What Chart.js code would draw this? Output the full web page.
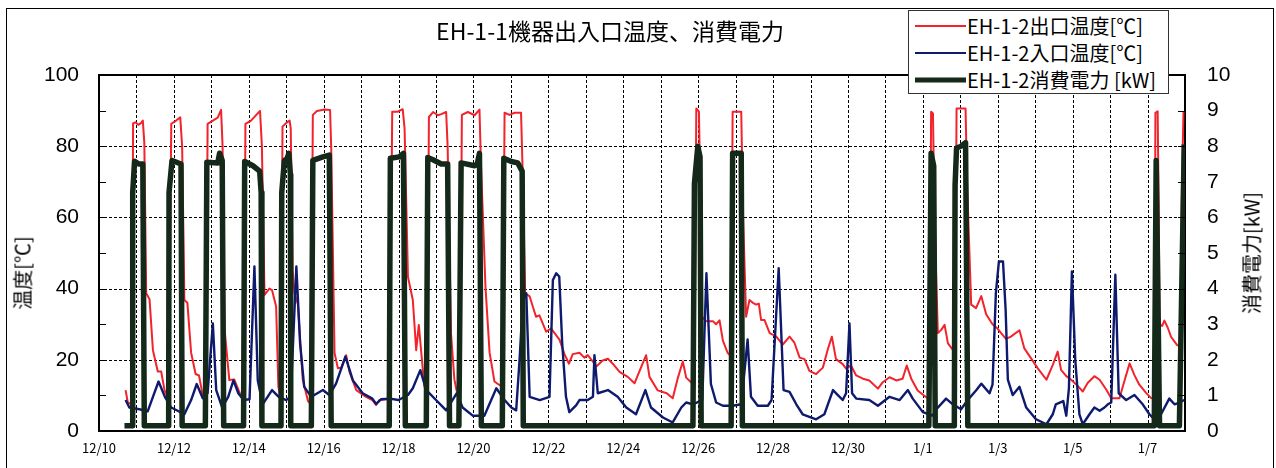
<!DOCTYPE html>
<html lang="ja">
<head>
<meta charset="utf-8">
<title>EH-1-1機器出入口温度、消費電力</title>
<script src="https://cdn.jsdelivr.net/npm/chart.js@4.4.1/dist/chart.umd.min.js"></script>
<style>
  html, body { margin: 0; padding: 0; background: #fff; }
  body { width: 1276px; height: 468px; position: relative; overflow: hidden; font-family: "Noto Sans CJK JP", sans-serif; }
  #frame { position: absolute; left: 6px; top: 8px; width: 1266px; height: 480px; border: 1px solid #000; }
  #chart { position: absolute; left: 0; top: 0; }
  .title { position: absolute; left: 0; width: 1220px; top: 14px; text-align: center; font-size: 23px; line-height: 32px; color: #000; }
  .ytitle { position: absolute; font-size: 20px; color: #000; white-space: nowrap; transform: translate(-50%, -50%) rotate(-90deg); }
  #legend { position: absolute; left: 908px; top: 10px; width: 259px; height: 82px; border: 1px solid #333; background: #fff; z-index: 2; }
  .row { position: absolute; left: 0; width: 100%; height: 26px; }
  .row .ln { position: absolute; left: 6px; width: 51px; top: 50%; transform: translateY(-50%); }
  .row .tx { position: absolute; left: 58px; top: 0; line-height: 26px; font-size: 20px; color: #000; white-space: nowrap; }
</style>
</head>
<body>
<div id="frame"></div>
<canvas id="chart" width="1276" height="468"></canvas>
<div class="title">EH-1-1機器出入口温度、消費電力</div>
<div class="ytitle" style="left:22px; top:273px;">温度[℃]</div>
<div class="ytitle" style="left:1251px; top:253px;">消費電力[kW]</div>
<div id="legend"></div>

<script>
// x = days since 12/10 0:00
const xTickLabels = ['12/10','12/12','12/14','12/16','12/18','12/20','12/22','12/24','12/26','12/28','12/30','1/1','1/3','1/5','1/7'];

const seriesNames = ['EH-1-2出口温度[℃]', 'EH-1-2入口温度[℃]', 'EH-1-2消費電力 [kW]'];

// outlet temperature [℃]
const outletTemp = [
  [0.71,11.5],[0.77,8],[0.88,7.5],[0.91,86.4],[0.97,86.7],[1.05,86],[1.12,86.5],[1.17,87.2],[1.21,81],[1.26,38.7],[1.35,37],[1.44,22.7],[1.57,16.7],[1.66,16.7],[1.75,11.5],[1.86,9],
  [1.93,86.3],[2.06,87.2],[2.17,88.1],[2.22,80],[2.28,36.8],[2.36,36],[2.46,22],[2.58,16],[2.67,15.6],[2.77,10],[2.86,9],
  [2.9,86.3],[3.04,87.2],[3.17,88],[3.26,90.2],[3.3,80],[3.35,29],[3.48,14.3],[3.61,14.5],[3.8,9.6],[3.87,9],
  [3.91,86.3],[4.06,87.2],[4.2,88.8],[4.3,89.9],[4.35,80],[4.42,38.2],[4.55,40],[4.62,39.6],[4.73,35],[4.79,12.4],[4.86,9],
  [4.9,85.5],[5.02,86.7],[5.09,87.2],[5.12,85],[5.17,45],[5.22,38.7],[5.31,35.6],[5.44,14.5],[5.58,8.4],[5.66,7.5],
  [5.71,88.8],[5.82,89.9],[6.02,90.3],[6.17,90.2],[6.2,80],[6.29,21.9],[6.38,17.6],[6.47,17.8],[6.6,21.3],[6.69,16.6],[6.87,11.5],[7.13,9.6],[7.3,8.7],[7.4,7.3],[7.49,8.7],[7.71,8.9],[7.76,8.9],
  [7.83,89.7],[7.98,89.7],[8.11,90.4],[8.16,85],[8.25,43.3],[8.38,36.8],[8.47,22.7],[8.54,29.8],[8.6,22.7],[8.69,12.4],[8.76,11.5],
  [8.81,88.2],[8.92,89.6],[9.05,88.7],[9.14,89],[9.27,89.6],[9.31,80],[9.4,27.4],[9.49,14.5],[9.55,11.3],[9.64,10.5],
  [9.69,88.8],[9.85,89.6],[10.03,88.7],[10.16,90.3],[10.2,75],[10.32,40.5],[10.43,22],[10.56,13.9],[10.68,13],[10.78,12.5],
  [10.83,89.4],[10.96,88.8],[11.1,89.4],[11.27,89.4],[11.32,70],[11.38,38.7],[11.5,37.8],[11.67,32.1],[11.76,32.5],[11.94,27.9],[12.07,28.8],[12.3,25.6],[12.43,21.6],[12.55,18.9],[12.65,21.6],[12.83,22],[12.96,20.6],[13.05,21.3],[13.19,19.5],[13.28,18.1],[13.45,19.8],[13.59,20.3],[13.72,18.9],[13.9,16.6],[14.12,15.2],[14.3,13.4],[14.48,18],[14.61,21.3],[14.7,15.2],[14.92,11.4],[15.16,10.6],[15.32,9.2],[15.46,15],[15.59,19.5],[15.68,15],[15.81,13.7],[15.9,13],
  [15.95,90.6],[16.02,89.7],[16.07,60],[16.1,32.1],[16.22,30.8],[16.4,30.8],[16.48,30],[16.57,31.1],[16.66,25.4],[16.79,21.9],[16.88,21],
  [16.92,89.7],[17.15,89.7],[17.2,60],[17.28,32.1],[17.37,36.8],[17.46,36],[17.55,35.5],[17.62,35.8],[17.68,31.2],[17.77,31.2],[17.91,27.5],[18.08,26.6],[18.26,24.3],[18.44,26.5],[18.57,24.8],[18.71,20.6],[18.84,20.2],[18.97,16.9],[19.15,16],[19.33,17.8],[19.46,22.9],[19.57,26.5],[19.68,20.2],[19.86,18.8],[19.95,17.5],[20.08,18.4],[20.22,15.6],[20.4,14.7],[20.57,14.2],[20.8,11.9],[20.93,13.7],[21.11,15.1],[21.29,14.2],[21.46,14.7],[21.57,18.4],[21.69,14.7],[21.86,11.4],[22.09,9.5],[22.18,9],
  [22.22,89.7],[22.27,89.2],[22.31,60],[22.4,27.5],[22.49,28.4],[22.58,29.8],[22.67,24.6],[22.8,22.8],[22.86,22],
  [22.9,90.6],[23.14,90.6],[23.18,70],[23.29,35.5],[23.42,34.5],[23.56,37.9],[23.69,32.8],[23.86,30],[24.0,28.7],[24.09,27.5],[24.22,25.9],[24.35,26.5],[24.58,28.3],[24.71,23.2],[24.89,20.4],[25.07,17.6],[25.3,14.4],[25.47,18.6],[25.6,22.3],[25.69,17.2],[25.83,15.4],[25.96,14.4],[26.14,12.6],[26.27,11.1],[26.4,13.5],[26.58,15.4],[26.72,14.4],[26.9,11.6],[27.03,9.2],[27.25,9.2],[27.38,14],[27.52,19],[27.65,15.7],[27.78,13],[27.96,10.7],[28.09,9.3],[28.18,9],
  [28.21,89.4],[28.27,89.8],[28.3,60],[28.32,30],[28.39,29.5],[28.45,31],[28.54,29],[28.63,26.4],[28.79,24.1],[28.88,24],[28.92,70],[28.96,89.8]
];

// inlet temperature [℃]
const inletTemp = [
  [0.71,8.7],[0.81,6.6],[1.08,6.1],[1.3,5.5],[1.44,9.6],[1.59,13.9],[1.76,9.6],[1.93,6.6],[2.28,4.7],[2.46,8.7],[2.61,13.2],[2.77,9.2],[2.9,10.6],[3.04,30.2],[3.13,11.5],[3.29,6.6],[3.45,9.6],[3.59,14.2],[3.72,10.6],[3.86,8.7],[4.02,8.9],[4.15,46.2],[4.24,14.2],[4.37,7.5],[4.62,11.5],[4.8,9.6],[5.0,8.7],[5.12,9.6],[5.27,46.2],[5.37,24.6],[5.48,12.4],[5.67,9.6],[5.98,11.5],[6.15,10.1],[6.33,13.3],[6.58,20.9],[6.78,14.2],[7.04,10.6],[7.3,9.1],[7.4,7.6],[7.53,8.9],[7.76,9.1],[8.0,8.7],[8.25,10.1],[8.38,12],[8.58,17.1],[8.74,11.5],[9.0,8.7],[9.27,5.8],[9.55,10.6],[9.71,6.6],[9.98,4.3],[10.29,4.3],[10.61,12],[10.83,8.7],[11.01,6.6],[11.14,5.8],[11.23,19.9],[11.32,36.8],[11.41,38.7],[11.5,9.6],[11.77,8.7],[12.03,9.6],[12.12,42.4],[12.21,44.3],[12.29,43.4],[12.37,24.5],[12.47,9.6],[12.56,5.3],[12.74,7.2],[12.83,8.7],[13.05,8.7],[13.19,9.6],[13.23,21.3],[13.32,10.6],[13.59,11.5],[13.85,9.6],[14.08,6.6],[14.34,4.7],[14.59,11.5],[14.74,6.6],[15.06,3.8],[15.32,2.4],[15.55,6.6],[15.68,8],[15.86,7.5],[16.11,8.7],[16.22,44.3],[16.34,13.2],[16.48,8],[16.66,7.1],[16.92,7.1],[17.15,7.5],[17.32,25.7],[17.41,9.6],[17.59,7.1],[17.86,7.1],[17.96,8.7],[18.15,45.7],[18.28,11.5],[18.44,11],[18.62,7.5],[18.79,4.7],[19.15,3.3],[19.37,4.7],[19.6,11.5],[19.73,10.1],[19.86,8.7],[19.95,10.6],[20.04,30.2],[20.11,10.6],[20.22,9.1],[20.57,8.7],[20.8,7.1],[21.11,9.6],[21.38,8.7],[21.6,11.5],[21.73,9.1],[22.0,5.3],[22.26,4.3],[22.35,6],[22.62,9.1],[22.8,7.5],[23.02,6.1],[23.2,8.7],[23.43,11.5],[23.56,13.3],[23.78,10.6],[23.86,13],[23.95,38.8],[24.03,47.6],[24.14,47.6],[24.21,34.1],[24.27,14.4],[24.4,10.1],[24.58,12.4],[24.76,6.6],[25.02,3.3],[25.3,1.9],[25.47,4.7],[25.55,7.5],[25.75,8.4],[25.83,4.3],[25.9,12],[25.98,44.8],[26.07,19.9],[26.18,4.7],[26.27,1.9],[26.45,4.7],[26.58,6.6],[26.72,5.7],[26.85,6.6],[26.94,7.5],[27.03,8],[27.14,43.9],[27.23,10.6],[27.43,8.7],[27.65,10.1],[27.87,7.5],[28.05,4.7],[28.23,2.8],[28.36,4.7],[28.58,9.1],[28.72,7.5],[28.85,8],[28.98,8.7]
];

// power consumption [kW]
const powerKW = [
  [0.68,0.15],[0.89,0.15],[0.9,6.7],[0.95,7.58],[1.06,7.5],[1.17,7.5],[1.21,0.15],
  [1.86,0.15],[1.87,6.7],[1.95,7.6],[2.19,7.5],[2.22,0.15],
  [2.84,0.15],[2.88,7.55],[3.17,7.53],[3.22,7.8],[3.29,7.6],[3.33,0.15],
  [3.86,0.15],[3.89,7.57],[4.11,7.45],[4.29,7.3],[4.33,6.7],[4.35,0.15],
  [4.86,0.15],[4.88,6.7],[4.95,7.6],[5.02,7.65],[5.07,7.8],[5.11,7.2],[5.12,0.15],
  [5.67,0.15],[5.71,7.6],[5.98,7.7],[6.15,7.75],[6.2,0.15],
  [7.75,0.15],[7.78,7.66],[8.02,7.7],[8.13,7.8],[8.18,0.15],
  [8.74,0.15],[8.78,7.68],[8.92,7.62],[9.14,7.5],[9.31,7.5],[9.36,0.15],
  [9.61,0.15],[9.67,7.53],[10.03,7.45],[10.1,7.5],[10.16,7.8],[10.21,0.15],
  [10.77,0.15],[10.81,7.66],[11.01,7.57],[11.18,7.53],[11.3,7.3],[11.33,0.15],
  [15.86,0.15],[15.9,6.95],[15.99,8.0],[16.05,7.7],[16.08,0.15],
  [16.88,0.15],[16.92,7.8],[17.15,7.8],[17.18,0.15],
  [22.16,0.15],[22.22,7.8],[22.29,7.45],[22.33,0.15],
  [22.84,0.15],[22.86,6.9],[22.9,7.95],[23.02,8.0],[23.14,8.1],[23.2,0.15],
  [28.18,0.15],[28.23,7.6],[28.32,0.15],
  [28.85,0.15],[28.98,8.05]
];

const COLORS = ['#f2232b', '#0d1a6e', '#15291a'];
const WIDTHS = [2, 2.4, 5.5];

const toXY = arr => arr.map(p => ({ x: p[0], y: p[1] }));

// dashed grid (under the lines), plot frame top + short inward ticks (on top)
const framePlugin = {
  id: 'frame',
  beforeDatasetsDraw(chart) {
    const { ctx, chartArea: a, scales } = chart;
    ctx.save();
    ctx.strokeStyle = '#000';
    ctx.lineWidth = 1;
    ctx.setLineDash([3, 2]);
    ctx.beginPath();
    scales.x.ticks.forEach(t => {
      const px = Math.round(scales.x.getPixelForValue(t.value)) + 0.5;
      if (px <= a.left + 1 || px >= a.right - 1) return;
      ctx.moveTo(px, a.top); ctx.lineTo(px, a.bottom);
    });
    scales.y.ticks.forEach(t => {
      const py = Math.round(scales.y.getPixelForValue(t.value)) + 0.5;
      if (py <= a.top + 1 || py >= a.bottom - 1) return;
      ctx.moveTo(a.left, py); ctx.lineTo(a.right, py);
    });
    ctx.stroke();
    ctx.restore();
  },
  afterDraw(chart) {
    const { ctx, chartArea: a, scales } = chart;
    ctx.save();
    ctx.strokeStyle = '#000';
    ctx.lineWidth = 2;
    ctx.beginPath();
    ctx.moveTo(a.left - 1, a.top);
    ctx.lineTo(a.right + 1, a.top);
    ctx.stroke();
    ctx.lineWidth = 1;
    ctx.beginPath();
    for (let v = scales.y.min; v <= scales.y.max; v += 10) {
      const py = Math.round(scales.y.getPixelForValue(v)) + 0.5;
      ctx.moveTo(a.left, py); ctx.lineTo(a.left + 7, py);
    }
    for (let v = scales.y1.min; v <= scales.y1.max; v += 1) {
      const py = Math.round(scales.y1.getPixelForValue(v)) + 0.5;
      ctx.moveTo(a.right - 7, py); ctx.lineTo(a.right, py);
    }
    ctx.stroke();
    ctx.restore();
  }
};

new Chart(document.getElementById('chart'), {
  type: 'line',
  data: {
    datasets: [
      { label: seriesNames[2], data: toXY(powerKW),    yAxisID: 'y1', borderColor: COLORS[2], borderWidth: WIDTHS[2], order: 0 },
      { label: seriesNames[1], data: toXY(inletTemp),  yAxisID: 'y',  borderColor: COLORS[1], borderWidth: WIDTHS[1], order: 1 },
      { label: seriesNames[0], data: toXY(outletTemp), yAxisID: 'y',  borderColor: COLORS[0], borderWidth: WIDTHS[0], order: 2 },
    ].map(d => ({ ...d, pointRadius: 0, tension: 0, fill: false, borderJoinStyle: 'round' })),
  },
  options: {
    responsive: false, animation: false, devicePixelRatio: 1,
    layout: { padding: { top: 75, left: 0, right: 0, bottom: 0 } },
    plugins: { legend: { display: false }, tooltip: { enabled: false }, title: { display: false } },
    scales: {
      x: {
        type: 'linear', position: 'bottom', min: 0, max: 29,
        afterFit: s => { s.height = 37; },
        ticks: {
          stepSize: 1, autoSkip: false, maxRotation: 0, padding: 9, color: '#000',
          font: { family: '"Noto Sans CJK JP", sans-serif', size: 13 },
          callback: v => (v % 2 === 0 ? xTickLabels[v / 2] : ''),
        },
        grid: { display: false, drawTicks: false },
        border: { display: true, color: '#000', width: 2 },
      },
      y: {
        position: 'left', min: 0, max: 100,
        afterFit: s => { s.width = 99; },
        ticks: { stepSize: 20, padding: 20, color: '#000', font: { family: '"Liberation Sans", Arial, sans-serif', size: 21 } },
        grid: { display: false, drawTicks: false },
        border: { display: true, color: '#000', width: 2 },
      },
      y1: {
        position: 'right', min: 0, max: 10,
        afterFit: s => { s.width = 91; },
        ticks: { stepSize: 1, padding: 22, color: '#000', font: { family: '"Liberation Sans", Arial, sans-serif', size: 21 } },
        grid: { display: false, drawTicks: false },
        border: { display: true, color: '#000', width: 2 },
      },
    },
  },
  plugins: [framePlugin],
});

// legend box (overlaps plot top like the original)
const legend = document.getElementById('legend');
const rowTops = [2, 28.5, 56];
seriesNames.forEach((name, i) => {
  const row = document.createElement('div');
  row.className = 'row';
  row.style.top = rowTops[i] + 'px';
  row.innerHTML = `<span class="ln" style="height:${i === 2 ? 5 : 2}px;background:${COLORS[i]}"></span><span class="tx">${name}</span>`;
  legend.appendChild(row);
});
</script>
</body>
</html>
